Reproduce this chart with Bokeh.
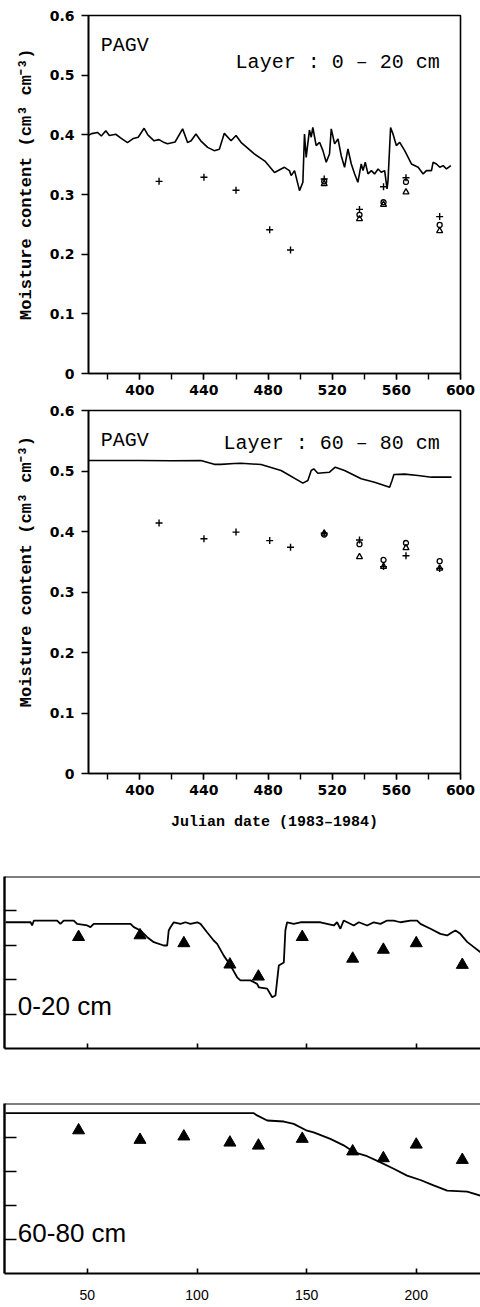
from bokeh.plotting import figure
from bokeh.models import Label, FixedTicker, Span, Range1d
from bokeh.embed import file_html
from bokeh.resources import INLINE

# ---------------- data: PAGV, layer 0-20 cm (Julian date 1983-1984) ----------------
sim1_day = [367.7, 370, 373.6, 376, 378.8, 381, 385, 388, 392.3, 396, 399, 402.7, 405, 408.9,
            412, 415.2, 417.3, 422, 426.7, 429.8, 432, 435, 438, 442.3, 446.4, 449.6, 452.7,
            456.9, 460, 463.1, 471.4, 478, 484.0, 490.2, 493.3, 494.4, 496.5, 499.6, 501.7,
            502.7, 503.75, 505.8, 506.9, 507.9, 510, 512.1, 514.2, 516.25, 518.3, 519.4, 521.5,
            523.6, 525.6, 527.7, 529.8, 531.9, 534, 536, 538.1, 539.2, 540.6, 542.3, 544.4,
            546.4, 548.6, 550.6, 552.7, 554.2, 554.8, 556.4, 557.9, 560, 562.1, 565.2, 569.4,
            573.6, 576.7, 578.75, 581.9, 582.9, 585, 587.1, 589.2, 591.25, 594]
sim1_val = [0.399, 0.402, 0.404, 0.398, 0.407, 0.399, 0.401, 0.395, 0.387, 0.394, 0.396, 0.411,
            0.400, 0.390, 0.392, 0.387, 0.385, 0.388, 0.410, 0.387, 0.390, 0.4015, 0.390, 0.379,
            0.3735, 0.376, 0.4025, 0.390, 0.399, 0.3875, 0.368, 0.356, 0.337, 0.3456, 0.340,
            0.3317, 0.340, 0.3065, 0.3205, 0.4015, 0.3623, 0.408, 0.396, 0.4123, 0.382, 0.3875,
            0.3735, 0.354, 0.368, 0.410, 0.3848, 0.3931, 0.365, 0.3456, 0.3763, 0.3512, 0.3345,
            0.3205, 0.3512, 0.340, 0.354, 0.3345, 0.340, 0.3345, 0.3428, 0.3373, 0.340, 0.3093,
            0.3233, 0.4123, 0.4015, 0.382, 0.3875, 0.3735, 0.3512, 0.3456, 0.3345, 0.340, 0.340,
            0.354, 0.3512, 0.3456, 0.3484, 0.3428, 0.3484]

obs_day = [412, 440, 460, 481, 494, 515, 537, 552, 566, 587]
obs1_plus = [0.322, 0.329, 0.307, 0.241, 0.207, 0.326, 0.275, 0.313, 0.328, 0.263]
obs_day_late = [515, 537, 552, 566, 587]
obs1_circle = [0.322, 0.266, 0.287, 0.321, 0.249]
obs1_triangle = [0.318, 0.259, 0.283, 0.304, 0.239]

# ---------------- data: PAGV, layer 60-80 cm ----------------
sim2_day = [367.7, 400, 420, 438.1, 446.4, 450.6, 458.9, 463.1, 475.6, 488.1, 501.7, 504.8,
            506.9, 508.5, 511, 518.3, 521.9, 527.7, 538.1, 546.4, 555.8, 557.3, 558.5, 565.2,
            573.5, 581.9, 594.4]
sim2_val = [0.5174, 0.5174, 0.517, 0.5174, 0.511, 0.511, 0.5124, 0.5129, 0.5107, 0.5008,
            0.4799, 0.4843, 0.5008, 0.5036, 0.4964, 0.498, 0.5063, 0.5008, 0.4871, 0.4815,
            0.4733, 0.4843, 0.4942, 0.4949, 0.4926, 0.4898, 0.4898]
obs2_plus = [0.414, 0.388, 0.399, 0.385, 0.374, 0.397, 0.386, 0.342, 0.360, 0.339]
obs2_circle = [0.395, 0.379, 0.353, 0.381, 0.351]
obs2_triangle = [0.397, 0.358, 0.342, 0.373, 0.339]

# ---------------- data: second model, day of year 1984 ----------------
simA_day = [12.7, 24.1, 24.8, 25.6, 36.2, 37.7, 39.2, 43.8, 45.3, 49.9, 51.4, 52.9, 68.1, 69.7,
            71.2, 74.2, 77.3, 80.3, 84.8, 86.4, 87.1, 87.9, 89.4, 92.5, 94.7, 97, 100.1, 101.6,
            104.6, 107.6, 109.2, 112.2, 115.3, 118.3, 119.8, 124.4, 127.4, 128.2, 132, 134.3,
            135.8, 137.3, 139.6, 140.3, 141.1, 144.1, 147.2, 156.3, 159.3, 162.4, 163.9, 165.4,
            166.9, 171.5, 173.8, 177.6, 180.6, 183.7, 186.7, 189.7, 192.8, 197.3, 200.4, 201.9,
            206.5, 211.0, 214.1, 216.4, 217.9, 220.1, 223.2, 229.3]
simA_val = [0.367, 0.367, 0.3576, 0.372, 0.372, 0.3624, 0.372, 0.372, 0.3624, 0.3576, 0.3527,
            0.3624, 0.3624, 0.3624, 0.3527, 0.343, 0.3236, 0.309, 0.2994, 0.2994, 0.343, 0.3527,
            0.367, 0.3624, 0.367, 0.3624, 0.367, 0.3624, 0.338, 0.314, 0.3043, 0.270, 0.241,
            0.207, 0.198, 0.198, 0.188, 0.178, 0.174, 0.149, 0.154, 0.241, 0.250, 0.343, 0.367,
            0.3624, 0.367, 0.367, 0.3624, 0.3576, 0.367, 0.348, 0.372, 0.3576, 0.367, 0.3576,
            0.367, 0.3624, 0.372, 0.372, 0.367, 0.372, 0.372, 0.3624, 0.348, 0.3333, 0.3285,
            0.338, 0.343, 0.3333, 0.31, 0.28]
obsA_day = [46, 74, 94, 115, 128, 148, 171, 185, 200, 221]
obsA_val = [0.324, 0.329, 0.306, 0.244, 0.209, 0.324, 0.261, 0.287, 0.306, 0.243]

simB_day = [12.7, 125.9, 127.4, 132, 139.6, 144.1, 150.2, 153.2, 160.8, 166.9, 171.5, 177.6,
            183.7, 189.7, 195.8, 201.9, 207.9, 214.1, 223.2, 229.3]
simB_val = [0.4715, 0.4715, 0.465, 0.45, 0.447, 0.44, 0.42, 0.415, 0.396, 0.377, 0.357, 0.345,
            0.327, 0.308, 0.288, 0.275, 0.259, 0.244, 0.241, 0.229]
obsB_val = [0.421, 0.393, 0.403, 0.385, 0.376, 0.396, 0.359, 0.339, 0.379, 0.334]

# ---------------- ticks & labels ----------------
top_x_ticks = [400, 440, 480, 520, 560, 600]
top_x_minor = [380, 400, 420, 440, 460, 480, 500, 520, 540, 560, 580, 600]
top_y_ticks = [0.0, 0.1, 0.2, 0.3, 0.4, 0.5, 0.6]
top_y_labels = ["0", "0.1", "0.2", "0.3", "0.4", "0.5", "0.6"]
bot_x_ticks = [50, 100, 150, 200]
bot_y_ticks = [0.1, 0.2, 0.3, 0.4]

YLABEL = "Moisture content (cm\u00b3 cm\u207b\u00b3)"
MONO = "Liberation Mono"
NBSP = "\u00a0"


def top_panel(height, btop, bbot, sim_d, sim_v, plus_v, circ_v, tri_v, layer, pagv_y, layer_y,
              xlabel, label_shift):
    p = figure(width=480, height=height, x_range=Range1d(368, 600), y_range=Range1d(0, 0.6),
               output_backend="svg", toolbar_location=None,
               min_border_left=88, min_border_right=20, min_border_top=btop, min_border_bottom=bbot)
    p.grid.visible = False
    p.background_fill_color = "white"
    p.border_fill_color = "white"
    p.outline_line_color = "black"
    p.outline_line_width = 1.6

    xa = p.xaxis[0]
    xa.ticker = FixedTicker(ticks=top_x_ticks, minor_ticks=top_x_minor)
    xa.major_tick_in = 0
    xa.major_tick_out = 6
    xa.minor_tick_in = 0
    xa.minor_tick_out = 6
    xa.axis_line_width = 1.6
    xa.major_tick_line_width = 1.4
    xa.minor_tick_line_width = 1.4
    xa.major_label_text_font = "DejaVu Sans"
    xa.major_label_text_font_style = "bold"
    xa.major_label_text_font_size = "14px"
    xa.major_label_text_color = "black"
    xa.major_label_standoff = 5
    if xlabel:
        xa.axis_label = xlabel
        xa.axis_label_text_font = MONO
        xa.axis_label_text_font_style = "bold"
        xa.axis_label_text_font_size = "15px"
        xa.axis_label_text_color = "black"
        xa.axis_label_standoff = 16

    ya = p.yaxis[0]
    ya.ticker = FixedTicker(ticks=top_y_ticks, minor_ticks=[])
    ya.major_label_overrides = {t: s for t, s in zip(top_y_ticks, top_y_labels)}
    ya.major_tick_in = 0
    ya.major_tick_out = 7
    ya.axis_line_width = 1.6
    ya.major_tick_line_width = 1.4
    ya.major_label_text_font = "DejaVu Sans"
    ya.major_label_text_font_style = "bold"
    ya.major_label_text_font_size = "14px"
    ya.major_label_text_color = "black"
    ya.major_label_standoff = 7
    ya.axis_label = NBSP * label_shift + YLABEL
    ya.axis_label_text_font = MONO
    ya.axis_label_text_font_style = "bold"
    ya.axis_label_text_font_size = "17px"
    ya.axis_label_text_color = "black"
    ya.axis_label_standoff = 11

    p.line(sim_d, sim_v, line_color="black", line_width=1.6)
    p.scatter(obs_day, plus_v, marker="cross", size=7, line_color="black", line_width=1.4)
    p.scatter(obs_day_late, circ_v, marker="circle", size=5, fill_color=None,
              line_color="black", line_width=1.3)
    p.scatter(obs_day_late, tri_v, marker="triangle", size=6, fill_color=None,
              line_color="black", line_width=1.3)

    p.add_layout(Label(x=375.6, y=pagv_y, text="PAGV", text_font=MONO, text_font_size="20px",
                       text_baseline="alphabetic", text_color="black"))
    p.add_layout(Label(x=587, y=layer_y, text=layer, text_font=MONO, text_font_size="20px",
                       text_align="right", text_baseline="alphabetic", text_color="black"))
    return p


def bottom_panel(height, btop, bbot, sim_d, sim_v, obs_v, tag, show_xlabels):
    p = figure(width=480, height=height, x_range=Range1d(12.2, 229.3), y_range=Range1d(0, 0.5),
               output_backend="svg", toolbar_location=None,
               min_border_left=4, min_border_right=0, min_border_top=btop, min_border_bottom=bbot)
    p.grid.visible = False
    p.background_fill_color = "white"
    p.border_fill_color = "white"
    p.outline_line_color = None
    p.add_layout(Span(location=0.5, dimension="width", line_color="black", line_width=1.8))

    xa = p.xaxis[0]
    xa.ticker = FixedTicker(ticks=bot_x_ticks, minor_ticks=[])
    xa.major_tick_in = 5
    xa.major_tick_out = 0
    xa.axis_line_width = 2.2
    xa.major_tick_line_width = 1.6
    if show_xlabels:
        xa.major_label_text_font = "Liberation Sans"
        xa.major_label_text_font_size = "14px"
        xa.major_label_text_color = "black"
        xa.major_label_standoff = 16
    else:
        xa.major_label_overrides = {t: "" for t in bot_x_ticks}
        xa.major_label_standoff = 0

    ya = p.yaxis[0]
    ya.ticker = FixedTicker(ticks=bot_y_ticks, minor_ticks=[])
    ya.major_label_overrides = {t: "" for t in bot_y_ticks}
    ya.major_label_standoff = 0
    ya.major_tick_in = 12
    ya.major_tick_out = 0
    ya.axis_line_width = 2.4
    ya.major_tick_line_width = 1.6

    p.line(sim_d, sim_v, line_color="black", line_width=1.8)
    p.scatter(obsA_day, obs_v, marker="triangle", size=12, fill_color="black", line_color="black")
    p.add_layout(Label(x=18.3, y=tag[1], text=tag[0], text_font="Liberation Sans",
                       text_font_size="26px", text_baseline="alphabetic", text_color="black"))
    return p


p1 = top_panel(400, 15, 27, sim1_day, sim1_val, obs1_plus, obs1_circle, obs1_triangle,
               "Layer : 0 \u2013 20 cm", 0.549, 0.521, None, 2)
p2 = top_panel(460, 10, 87, sim2_day, sim2_val, obs2_plus, obs2_circle, obs2_triangle,
               "Layer : 60 \u2013 80 cm", 0.550, 0.545, "Julian date (1983\u20131984)", 4)
p3 = bottom_panel(218, 16, 30, simA_day, simA_val, obsA_val, ("0-20 cm", 0.124), False)
p4 = bottom_panel(229, 25, 34, simB_day, simB_val, obsB_val, ("60-80 cm", 0.118), True)

# separate roots so that the plot frames are not aligned with each other
html = file_html([p1, p2, p3, p4], INLINE)
html = html.replace("<head>", "<head><style>html,body{margin:0;padding:0;} body>div{display:block;}</style>", 1)
open("out.html", "w").write(html)
